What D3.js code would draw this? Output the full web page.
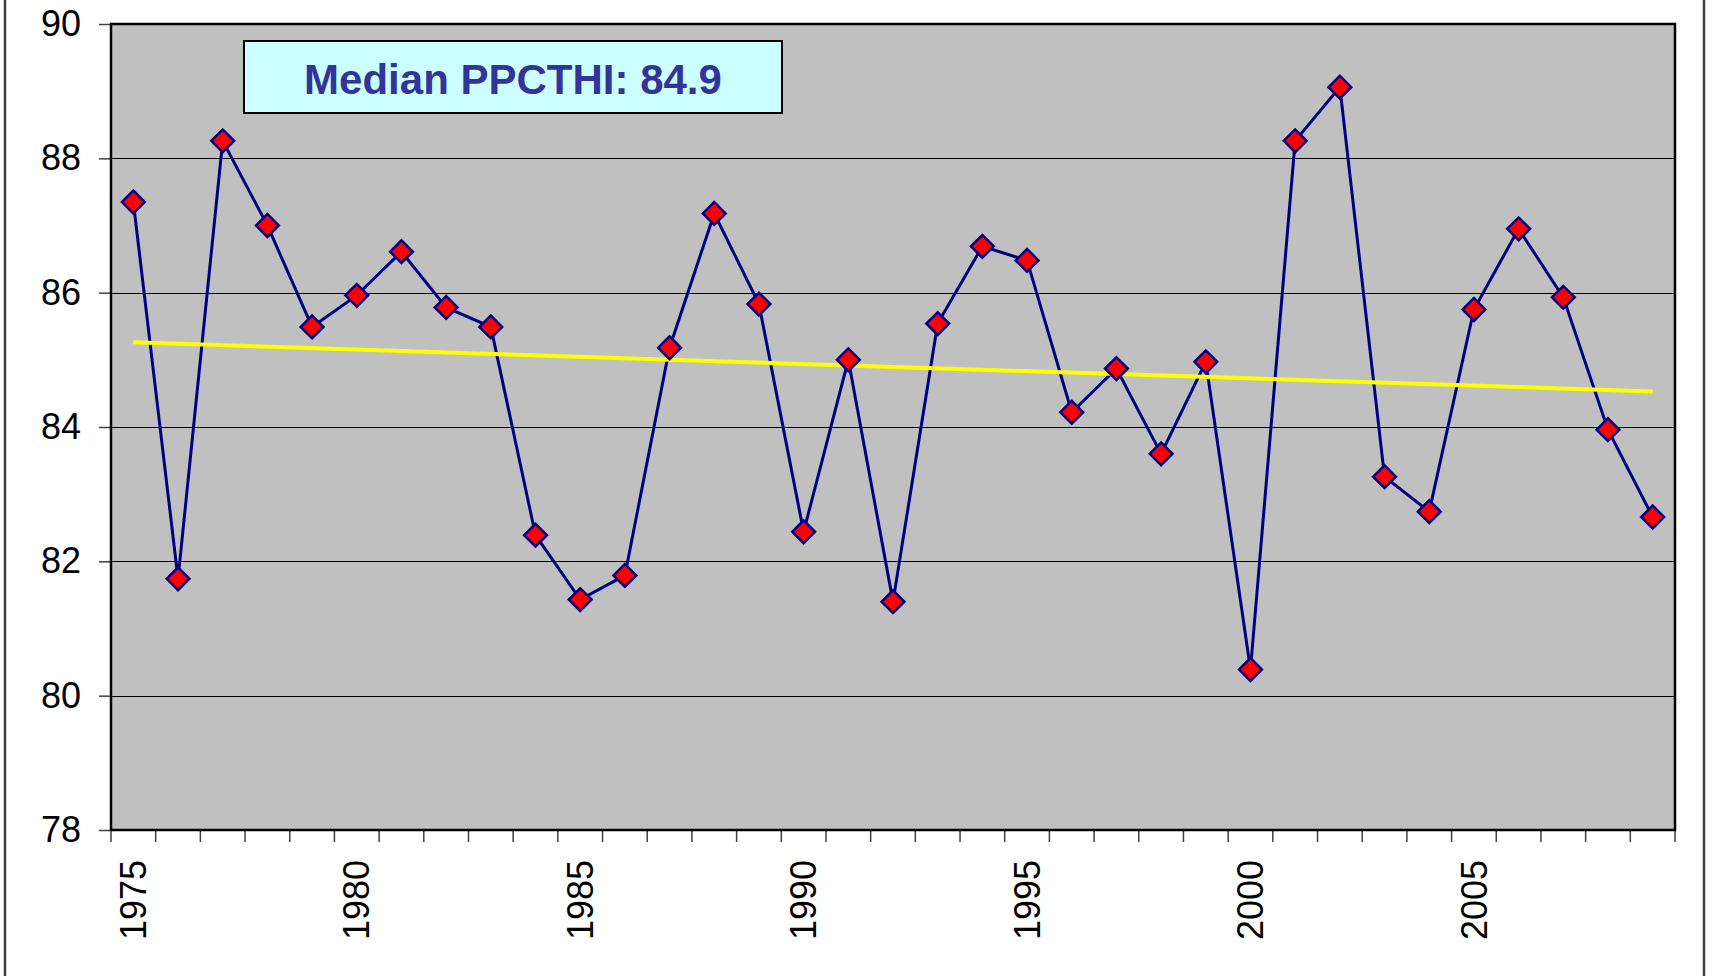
<!DOCTYPE html>
<meta charset="utf-8">
<style>
    body { margin: 0; background: #fff; }
    svg { font-family: "Liberation Sans", Arial, sans-serif; }
    .grid line { stroke: #000; stroke-width: 1; shape-rendering: crispEdges; }
    .axis path { display: none; }
    .axis line { stroke: #404040; stroke-width: 1.5; }
    .axis text { font-size: 36px; fill: #000; }
</style>
<body>
<script src="https://cdnjs.cloudflare.com/ajax/libs/d3/7.8.5/d3.min.js"></script>
<script>
    // yearly values
    const years = d3.range(1975, 2010);
    const ppcthi = [
        87.35, 81.74, 88.26, 87.00, 85.49, 85.96, 86.61, 85.78, 85.49, 82.39,
        81.43, 81.79, 85.18, 87.18, 85.83, 82.44, 85.00, 81.40, 85.54, 86.69,
        86.48, 84.22, 84.87, 83.60, 84.97, 80.39, 88.26, 89.06, 83.26, 82.74,
        85.75, 86.95, 85.93, 83.96, 82.66
    ];
    const trendEnds = [85.26, 84.53];
    const yTicks = [78, 80, 82, 84, 86, 88, 90];
    const labelYears = [1975, 1980, 1985, 1990, 1995, 2000, 2005];
    const medianText = "Median PPCTHI: 84.9";

    const W = 1712, H = 976;
    const plot = {left: 111, right: 1675, top: 24, bottom: 830};

    const svg = d3.select('body').append('svg')
        .attr('width', W).attr('height', H);

    // outer frame sides
    svg.append('line').attr('x1', 5).attr('x2', 5).attr('y1', 0).attr('y2', H)
        .attr('stroke', '#404040').attr('stroke-width', 2.5);
    svg.append('line').attr('x1', 1704).attr('x2', 1704).attr('y1', 0).attr('y2', H)
        .attr('stroke', '#404040').attr('stroke-width', 2.5);

    const x = d3.scaleBand().domain(years).range([plot.left, plot.right]);
    const y = d3.scaleLinear().domain([78, 90]).range([plot.bottom, plot.top]);
    const cx = d => x(d) + x.bandwidth() / 2;

    svg.append('rect')
        .attr('x', plot.left).attr('y', plot.top)
        .attr('width', plot.right - plot.left).attr('height', plot.bottom - plot.top)
        .attr('fill', '#c0c0c0');

    svg.append('g').attr('class', 'grid')
        .selectAll('line')
        .data(yTicks.filter(v => v > 78 && v < 90))
        .enter().append('line')
        .attr('x1', plot.left).attr('x2', plot.right)
        .attr('y1', d => Math.round(y(d)) + 0.5).attr('y2', d => Math.round(y(d)) + 0.5);

    // y axis
    svg.append('g').attr('class', 'axis')
        .attr('transform', `translate(${plot.left},0)`)
        .call(d3.axisLeft(y).tickValues(yTicks).tickSize(12).tickPadding(18).tickFormat(d3.format('d')));

    // x axis: ticks on band edges, labels on selected band centres
    const xAxis = svg.append('g').attr('class', 'axis')
        .attr('transform', `translate(0,${plot.bottom})`);
    xAxis.selectAll('line')
        .data(years.concat([2010]))
        .enter().append('line')
        .attr('x1', d => d === 2010 ? plot.right : x(d))
        .attr('x2', d => d === 2010 ? plot.right : x(d))
        .attr('y1', 0).attr('y2', 12);
    xAxis.selectAll('text')
        .data(labelYears)
        .enter().append('text')
        .attr('transform', d => `translate(${cx(d)},30) rotate(-90)`)
        .attr('dy', '0.35em')
        .style('text-anchor', 'end')
        .text(d => d);

    // plot border
    svg.append('rect')
        .attr('x', plot.left).attr('y', plot.top)
        .attr('width', plot.right - plot.left).attr('height', plot.bottom - plot.top)
        .attr('fill', 'none').attr('stroke', '#000').attr('stroke-width', 2.5);

    // median box
    const box = svg.append('g');
    box.append('rect')
        .attr('x', 244).attr('y', 41).attr('width', 538).attr('height', 72)
        .attr('fill', '#ccffff').attr('stroke', '#000').attr('stroke-width', 2);
    box.append('text')
        .attr('x', 513).attr('y', 94)
        .attr('text-anchor', 'middle')
        .attr('font-size', 42).attr('font-weight', 'bold')
        .attr('fill', '#333399')
        .text(medianText);

    // series line
    const line = d3.line().x((d, i) => cx(years[i])).y(d => y(d));
    svg.append('path')
        .datum(ppcthi)
        .attr('d', line)
        .attr('fill', 'none')
        .attr('stroke', '#000080')
        .attr('stroke-width', 3);

    // trend line
    svg.append('line')
        .attr('x1', cx(years[0])).attr('y1', y(trendEnds[0]))
        .attr('x2', cx(years[years.length - 1])).attr('y2', y(trendEnds[1]))
        .attr('stroke', '#ffff00').attr('stroke-width', 4);

    // diamond markers
    const diamond = d3.symbol().type(d3.symbolSquare).size(260);
    svg.append('g').selectAll('path')
        .data(ppcthi)
        .enter().append('path')
        .attr('d', diamond)
        .attr('transform', (d, i) => `translate(${cx(years[i])},${y(d)}) rotate(45)`)
        .attr('fill', '#ff0000')
        .attr('stroke', '#000080')
        .attr('stroke-width', 2.5);
</script>
</body>
